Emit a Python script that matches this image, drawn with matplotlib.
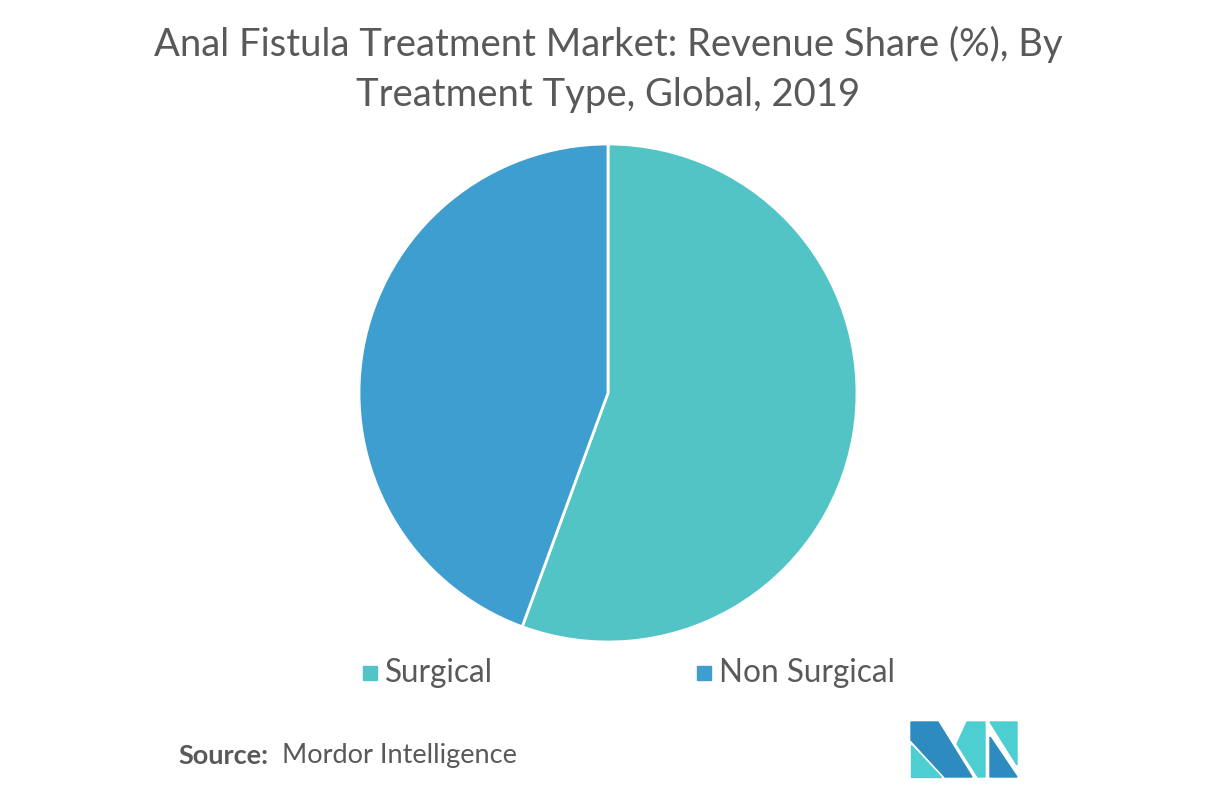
import matplotlib.pyplot as plt
from matplotlib.patches import Polygon, Rectangle

plt.rcParams['font.family'] = ['Lato', 'DejaVu Sans']

labels = ['Surgical', 'Non Surgical']
shares = [55.6, 44.4]
colors = ['#52C4C6', '#3E9ECF']

W, H = 1216, 791
fig = plt.figure(figsize=(W / 100, H / 100), dpi=100)


def fx(px):
    return px / W


def fy(py):
    return 1 - py / H


# titel
fig.text(0.5, fy(44), 'Anal Fistula Treatment Market: Revenue Share (%), By',
         ha='center', va='center', fontsize=27.5, color='#595959')
fig.text(0.5, fy(95), 'Treatment Type, Global, 2019',
         ha='center', va='center', fontsize=27.5, color='#595959')

# pie
cx, cy, r = 608, 393, 249
ax = fig.add_axes([fx(cx - r), fy(cy + r), fx(2 * r), 2 * r / H])
ax.pie(shares, colors=colors, startangle=90, counterclock=False,
       wedgeprops=dict(edgecolor='white', linewidth=2))
ax.set_xlim(-1, 1)
ax.set_ylim(-1, 1)
ax.set_aspect('auto')
ax.axis('off')

# legende
leg_x = [363, 697]
for lab, col, x in zip(labels, colors, leg_x):
    fig.patches.append(Rectangle((fx(x), fy(680)), fx(14), 14 / H, color=col,
                                 transform=fig.transFigure))
    fig.text(fx(x + 22), fy(673), lab, ha='left', va='center',
             fontsize=22.7, color='#595959')

# quelle
fig.text(fx(178), fy(756), 'Source:', ha='left', va='center', fontsize=19.5,
         fontweight='bold', color='#595959')
fig.text(fx(282), fy(756), 'Mordor Intelligence', ha='left', va='center',
         fontsize=19.5, color='#595959')

# logo
dark = '#2E8BC0'
teal = '#4DCFD1'
logo = [
    ([(911, 722), (938, 722), (972, 777), (945, 777), (911, 740)], dark),
    ([(911, 745), (911, 777), (941, 777)], teal),
    ([(967, 722), (985, 722), (985, 777), (978, 777), (957, 744)], teal),
    ([(990, 722), (1017, 722), (1017, 765), (995, 730)], teal),
    ([(990, 737), (1017, 777), (990, 777)], dark),
]
for pts, col in logo:
    fig.patches.append(Polygon([(fx(a), fy(b)) for a, b in pts], closed=True,
                               color=col, transform=fig.transFigure))

fig.savefig('out.png', dpi=100, facecolor='white')
